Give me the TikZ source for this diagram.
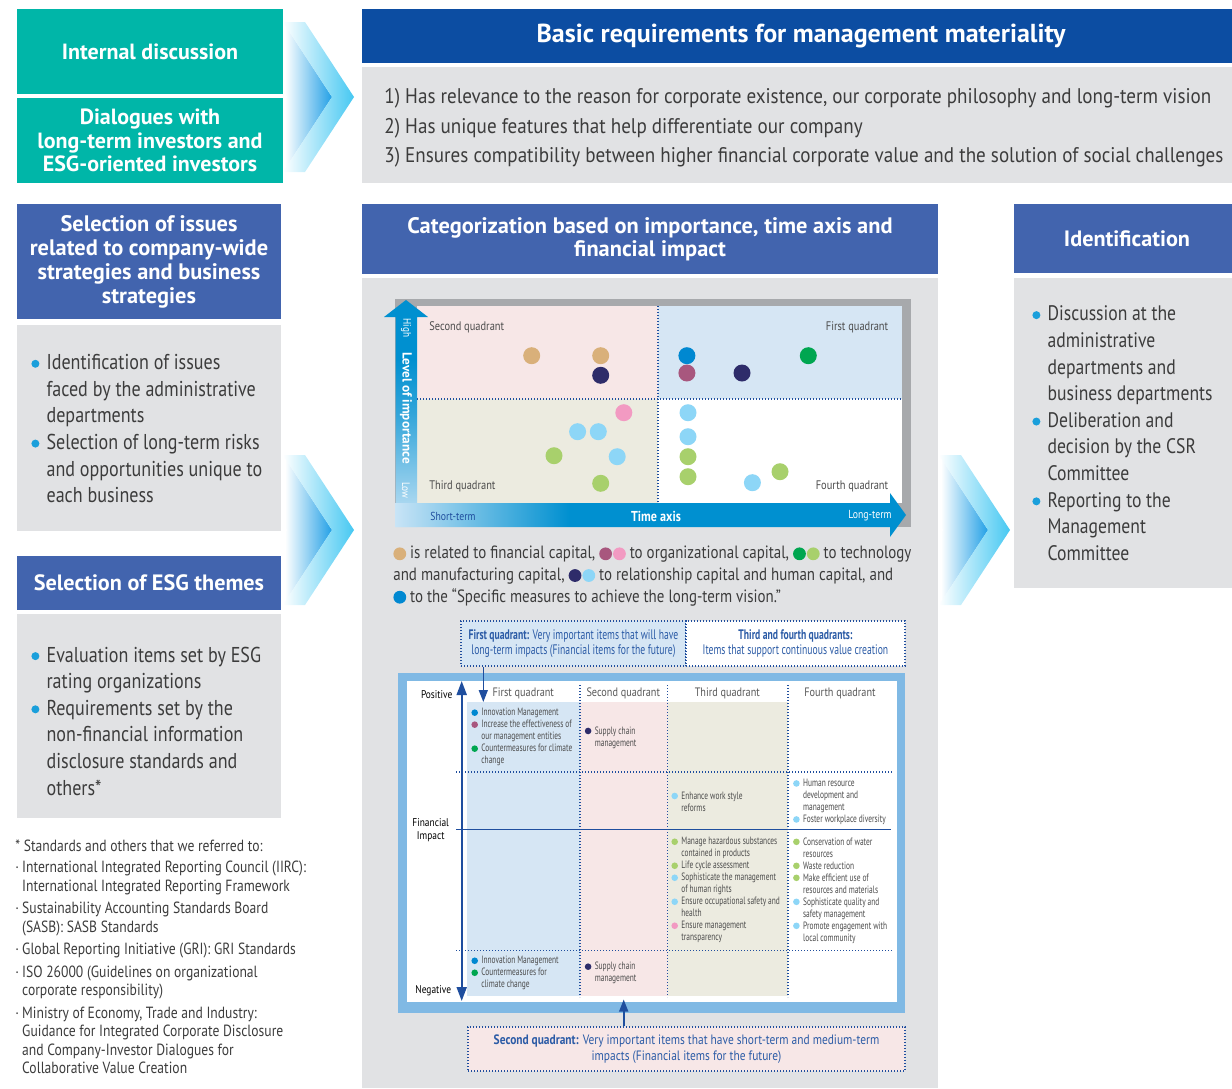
\documentclass[tikz,border=0pt]{standalone}
\usepackage{fontspec}
\setmainfont{PT Sans}[FakeStretch=0.84]
\newfontfamily\condfont{PT Sans}[FakeStretch=0.70]
\newfontfamily\reqfont{PT Sans}[FakeStretch=0.90]
\newfontfamily\hdrfont{PT Sans}
\usepackage{xcolor}
\usepackage{tikz}
\usetikzlibrary{arrows.meta,calc,positioning}

\definecolor{tealbox}{RGB}{0,182,168}
\definecolor{hdrdark}{RGB}{12,77,162}
\definecolor{hdrblue}{RGB}{66,100,174}
\definecolor{panel}{RGB}{225,226,228}
\definecolor{bodytext}{RGB}{60,60,60}
\definecolor{bulblue}{RGB}{26,159,219}
\definecolor{chevback}{RGB}{34,160,230}
\definecolor{chevfront}{RGB}{70,200,242}
\definecolor{framegray}{RGB}{167,169,172}
\definecolor{axblue}{RGB}{0,144,208}
\definecolor{axlight}{RGB}{200,228,246}
\definecolor{qpink}{RGB}{247,231,231}
\definecolor{qblue}{RGB}{214,230,244}
\definecolor{qbeige}{RGB}{236,235,224}
\definecolor{divblue}{RGB}{31,78,158}
\definecolor{calltext}{RGB}{43,91,166}
\definecolor{mframe}{RGB}{128,185,228}
% capital colours
\definecolor{capTan}{RGB}{217,176,122}
\definecolor{capNavy}{RGB}{46,44,106}
\definecolor{capBlue}{RGB}{0,136,209}
\definecolor{capMauve}{RGB}{168,87,126}
\definecolor{capGreen}{RGB}{0,166,80}
\definecolor{capPink}{RGB}{242,154,194}
\definecolor{capLblue}{RGB}{141,214,247}
\definecolor{capLgreen}{RGB}{168,208,108}

\pgfdeclareverticalshading{impshade}{100bp}{color(0bp)=(axlight); color(25bp)=(axlight); color(50bp)=(axblue!75!axlight); color(62bp)=(axblue); color(100bp)=(axblue)}
\pgfdeclarehorizontalshading{timeshade}{100bp}{color(0bp)=(axlight); color(25bp)=(axlight); color(42bp)=(axblue); color(100bp)=(axblue)}

\newcommand{\capdot}[1]{\tikz[x=1pt,y=1pt,baseline=-0.55ex]\fill[#1] (0,0) circle (3.2pt);}
\newcommand{\bulx}{\makebox[7.6pt][l]{\tikz[x=1pt,y=1pt,baseline=-0.55ex]\fill[bulblue] (0,0) circle (2pt);}}
\newcommand{\indx}{\hspace*{7.6pt}}
\newcommand{\smbul}[1]{\makebox[5pt][l]{\tikz[x=1pt,y=1pt,baseline=-0.6ex]\fill[#1] (0,0) circle (1.65pt);}}
\newcommand{\smind}{\hspace*{5pt}}
\newcommand{\refdot}{\makebox[3.4pt][l]{·}}
\newcommand{\refind}{\hspace*{3.4pt}}
\newcommand{\chevron}[2]{%
  \shade[left color=white, right color=chevback, middle color=white]
    ({#1-94},{#2-75}) -- ({#1-49},{#2-75}) -- (#1,#2) -- ({#1-49},{#2+75})
    -- ({#1-94},{#2+75}) -- ({#1-45},#2) -- cycle;
  \shade[left color=white, right color=chevfront]
    ({#1-49},{#2-75}) -- ({#1-27},{#2-75}) -- ({#1+22},#2) -- ({#1-27},{#2+75})
    -- ({#1-49},{#2+75}) -- (#1,#2) -- cycle;}

\begin{document}
\begin{tikzpicture}[x=0.5pt,y=-0.5pt,
    every node/.style={inner sep=0pt},
    tealhdr/.style={fill=tealbox,text=white,align=center,minimum width=133pt,minimum height=42.5pt,font=\hdrfont\bfseries\fontsize{11}{11.7}\selectfont},
    bluehdr/.style={fill=hdrblue,text=white,align=center,font=\hdrfont\bfseries\fontsize{11.2}{12}\selectfont},
    bodytxt/.style={text=bodytext,align=left,anchor=west,font=\fontsize{10.75}{13.3}\selectfont},
    qlabel/.style={text=black!70,font=\fontsize{6.2}{7}\selectfont},
    callout/.style={draw=divblue,line width=0.6pt,dash pattern=on 0.6pt off 0.9pt,text=calltext,align=center,font=\condfont\fontsize{6.9}{7.8}\selectfont},
    colhead/.style={text=black!65,font=\fontsize{6.1}{7}\selectfont},
    items/.style={text=black!70,align=left,anchor=west,font=\condfont\fontsize{5.3}{6}\selectfont},
    divline/.style={divblue,line width=0.6pt,dash pattern=on 0.6pt off 0.9pt},
    impact/.style={divblue,line width=0.8pt}]
  \useasboundingbox (0,0) rectangle (1232,1088);
  \clip (0,0) rectangle (1232,1088);

  % Chevrons
  \chevron{332}{97}
  \chevron{332}{530}
  \chevron{988}{530}

  % Left column
  \node[tealhdr] (intdisc) at (150,51.5) {Internal discussion};
  \node[tealhdr] (dialog) at (150,140.5) {Dialogues with\\long-term investors and\\ESG-oriented investors};

  \node[bluehdr,minimum width=132pt,minimum height=57.5pt] (issues) at (149,261.5) {Selection of issues\\related to company-wide\\strategies and business\\strategies};
  \fill[panel] (17,325) rectangle (281,531);
  \node[bodytxt] (issuelist) at (31,428.7) {\bulx Identification of issues\\\indx faced by the administrative\\\indx departments\\\bulx Selection of long-term risks\\\indx and opportunities unique to\\\indx each business};

  \node[bluehdr,minimum width=132pt,minimum height=27pt,font=\hdrfont\bfseries\fontsize{11.1}{12}\selectfont] (esg) at (149,583) {Selection of ESG themes};
  \fill[panel] (17,614) rectangle (281,818);
  \node[bodytxt] (esglist) at (31,721) {\bulx Evaluation items set by ESG\\\indx rating organizations\\\bulx Requirements set by the\\\indx non-financial information\\\indx disclosure standards and\\\indx others*};

  % Footnote
  \node[anchor=west,align=left,text=bodytext,font=\fontsize{8.1}{9.15}\selectfont] (refs) at (15,956.7) {* Standards and others that we referred to:\\[1.7pt]
    \refdot International Integrated Reporting Council (IIRC):\\\refind International Integrated Reporting Framework\\[2.2pt]
    \refdot Sustainability Accounting Standards Board\\\refind (SASB): SASB Standards\\[2.2pt]
    \refdot Global Reporting Initiative (GRI): GRI Standards\\[2.2pt]
    \refdot ISO 26000 (Guidelines on organizational\\\refind corporate responsibility)\\[2.2pt]
    \refdot Ministry of Economy, Trade and Industry:\\\refind Guidance for Integrated Corporate Disclosure\\\refind and Company-Investor Dialogues for\\\refind Collaborative Value Creation};

  % Basic requirements
  \node[bluehdr,fill=hdrdark,minimum width=439pt,minimum height=27pt,font=\hdrfont\bfseries\fontsize{13}{14}\selectfont] (basic) at (801,36) {Basic requirements for management materiality};
  \fill[panel] (362,67) rectangle (1240,183);
  \node[bodytxt,font=\reqfont\fontsize{10.6}{14.6}\selectfont] (reqs) at (384,127.8) {1) Has relevance to the reason for corporate existence, our corporate philosophy and long-term vision\\2) Has unique features that help differentiate our company\\3) Ensures compatibility between higher financial corporate value and the solution of social challenges};

  % Categorization
  \node[bluehdr,minimum width=288pt,minimum height=35pt,font=\hdrfont\bfseries\fontsize{11.2}{11.6}\selectfont] (categ) at (650,239) {Categorization based on importance, time axis and\\financial impact};
  \fill[panel] (362,278) rectangle (938,1088);

  % Identification
  \node[bluehdr,minimum width=113pt,minimum height=34.5pt,font=\hdrfont\bfseries\fontsize{11.1}{12}\selectfont] (ident) at (1127,238.5) {Identification};
  \fill[panel] (1014,278) rectangle (1240,588);
  \node[bodytxt,font=\fontsize{10.5}{13.3}\selectfont] (identlist) at (1032,433.3) {\bulx Discussion at the\\\indx administrative\\\indx departments and\\\indx business departments\\\bulx Deliberation and\\\indx decision by the CSR\\\indx Committee\\\bulx Reporting to the\\\indx Management\\\indx Committee};

  % Quadrant chart
  \fill[framegray] (395,299) rectangle (911,527);
  \fill[qpink] (417,306) rectangle (658,399);
  \fill[qblue] (658,306) rectangle (902,399);
  \fill[qbeige] (417,399) rectangle (658,503);
  \fill[white] (658,399) rectangle (902,503);
  \draw[divline] (658,306) -- (658,503);
  \draw[divline] (417,399) -- (902,399);
  \node[qlabel,anchor=west] (q2lab) at (429,327) {Second quadrant};
  \node[qlabel,anchor=east] (q1lab) at (888.6,327) {First quadrant};
  \node[qlabel,anchor=west] (q3lab) at (429,486) {Third quadrant};
  \node[qlabel,anchor=east] (q4lab) at (888.6,486) {Fourth quadrant};
  \foreach \px/\py/\pc in {531.7/355.7/capTan, 600.7/355.7/capTan, 600.7/375.3/capNavy,
      686.9/355.7/capBlue, 686.9/373/capMauve, 742/373/capNavy, 808.3/355.7/capGreen,
      623.8/412.7/capPink, 577.6/431.7/capLblue, 598.3/431.7/capLblue, 554/455.7/capLgreen,
      617.2/456.7/capLblue, 600.7/483.3/capLgreen, 688/412.7/capLblue, 688/436.7/capLblue,
      688/456.7/capLgreen, 688/476.7/capLgreen, 780/471.7/capLgreen, 752.4/482.7/capLblue}
    \fill[\pc] (\px,\py) circle (8.5);

  % Axes
  \shade[shading=impshade] (395.5,527) -- (395.5,317) -- (384,317) -- (406,300) -- (428,317) -- (417,317) -- (417,527) -- cycle;
  \shade[shading=timeshade] (395.5,503) -- (890,503) -- (890,493) -- (906,515) -- (890,537) -- (890,527) -- (395.5,527) -- cycle;
  \node[rotate=-90,text=white,font=\fontsize{5.5}{6}\selectfont] (high) at (406,328) {High};
  \node[rotate=-90,text=white,font=\hdrfont\bfseries\fontsize{6.6}{8}\selectfont] (importance) at (406,408) {Level of importance};
  \node[rotate=-90,text=white,font=\fontsize{5.5}{6}\selectfont] (low) at (406,490) {Low};
  \node[text=divblue,font=\fontsize{5.8}{6}\selectfont] (short) at (453,516) {Short-term};
  \node[text=white,font=\bfseries\fontsize{7.2}{8}\selectfont] (timeaxis) at (656,516) {Time axis};
  \node[text=white,font=\fontsize{5.8}{6}\selectfont] (long) at (870,516) {Long-term};

  % Legend
  \node[anchor=west,align=left,text=bodytext,font=\fontsize{8.9}{10.85}\selectfont] (legend) at (393,576) {\capdot{capTan} is related to financial capital, \capdot{capMauve}\hspace{0.5pt}\capdot{capPink} to organizational capital, \capdot{capGreen}\hspace{0.5pt}\capdot{capLgreen} to technology\\and manufacturing capital, \capdot{capNavy}\hspace{0.5pt}\capdot{capLblue} to relationship capital and human capital, and\\\capdot{capBlue} to the “Specific measures to achieve the long-term vision.”};

  % Callouts
  \node[callout,fill=qblue,minimum width=112.5pt,minimum height=22.5pt] (firstq) at (573.5,643.5) {\textbf{First quadrant:} Very important items that will have\\long-term impacts (Financial items for the future)};
  \node[callout,fill=white,minimum width=109.5pt,minimum height=22.5pt] (thirdq) at (795.5,643.5) {\textbf{Third and fourth quadrants:}\\Items that support continuous value creation};

  % Financial impact matrix
  \fill[mframe] (398,673) rectangle (905,1013);
  \fill[white] (406.5,680.5) rectangle (897,1002);
  \fill[qblue] (467,702) rectangle (580,996);
  \fill[qpink] (580,702) rectangle (667.5,996);
  \fill[qbeige] (667.5,702) rectangle (788,996);
  \foreach \cx in {580,667.5,788}
    \draw[divline] (\cx,685) -- (\cx,997);
  \foreach \ry in {772,950.7}
    \draw[divline] (456,\ry) -- (892,\ry);
  \draw[impact] (456,829.3) -- (891,829.3);
  \coordinate (pos) at (461.7,681);
  \coordinate (neg) at (461.7,1001);
  \draw[impact,line width=1pt,{Triangle[width=5pt,length=7pt]}-{Triangle[width=5pt,length=7pt]}] (pos) -- (neg);

  \node[font=\fontsize{5.6}{6.2}\selectfont] (poslab) at (436.7,695) {Positive};
  \node[align=center,font=\fontsize{5.6}{6.2}\selectfont] (finlab) at (430.7,830) {Financial\\Impact};
  \node[font=\fontsize{5.6}{6.2}\selectfont] (neglab) at (433.3,990.7) {Negative};

  \node[colhead] (c1) at (523.3,693.3) {First quadrant};
  \node[colhead] (c2) at (623.3,693.3) {Second quadrant};
  \node[colhead] (c3) at (727.3,693.3) {Third quadrant};
  \node[colhead] (c4) at (840,693.3) {Fourth quadrant};

  \node[items] (c1top) at (471,737.2) {\smbul{capBlue}Innovation Management\\\smbul{capMauve}Increase the effectiveness of\\\smind our management entities\\\smbul{capGreen}Countermeasures for climate\\\smind change};
  \node[items] (c2top) at (584.4,737.5) {\smbul{capNavy}Supply chain\\\smind management};
  \node[items] (c3mid) at (671,801.5) {\smbul{capLblue}Enhance work style\\\smind reforms};
  \node[items] (c4mid) at (792.7,802) {\smbul{capLblue}Human resource\\\smind development and\\\smind management\\\smbul{capLblue}Foster workplace diversity};
  \node[items] (c3low) at (671,890.3) {\smbul{capLgreen}Manage hazardous substances\\\smind contained in products\\\smbul{capLgreen}Life cycle assessment\\\smbul{capLblue}Sophisticate the management\\\smind of human rights\\\smbul{capLblue}Ensure occupational safety and\\\smind health\\\smbul{capPink}Ensure management\\\smind transparency};
  \node[items] (c4low) at (792.7,890.3) {\smbul{capLgreen}Conservation of water\\\smind resources\\\smbul{capLgreen}Waste reduction\\\smbul{capLgreen}Make efficient use of\\\smind resources and materials\\\smbul{capLblue}Sophisticate quality and\\\smind safety management\\\smbul{capLblue}Promote engagement with\\\smind local community};
  \node[items] (c1neg) at (471,973.3) {\smbul{capBlue}Innovation Management\\\smbul{capGreen}Countermeasures for\\\smind climate change};
  \node[items] (c2neg) at (584.4,973.2) {\smbul{capNavy}Supply chain\\\smind management};

  \node[callout,fill=qpink,minimum width=218.5pt,minimum height=22pt,font=\fontsize{6.8}{7.8}\selectfont] (secondq) at (686.5,1049) {\textbf{Second quadrant:} Very important items that have short-term and medium-term\\impacts (Financial items for the future)};

  % Arrows into the matrix
  \coordinate (q1in) at (483.3,702);
  \coordinate (q2in) at (623.7,999.5);
  \draw[impact,-{Triangle[width=4.5pt,length=6pt]}] (firstq.south -| q1in) -- (q1in);
  \draw[impact,-{Triangle[width=4.5pt,length=6pt]}] (secondq.north -| q2in) -- (q2in);
\end{tikzpicture}
\end{document}
